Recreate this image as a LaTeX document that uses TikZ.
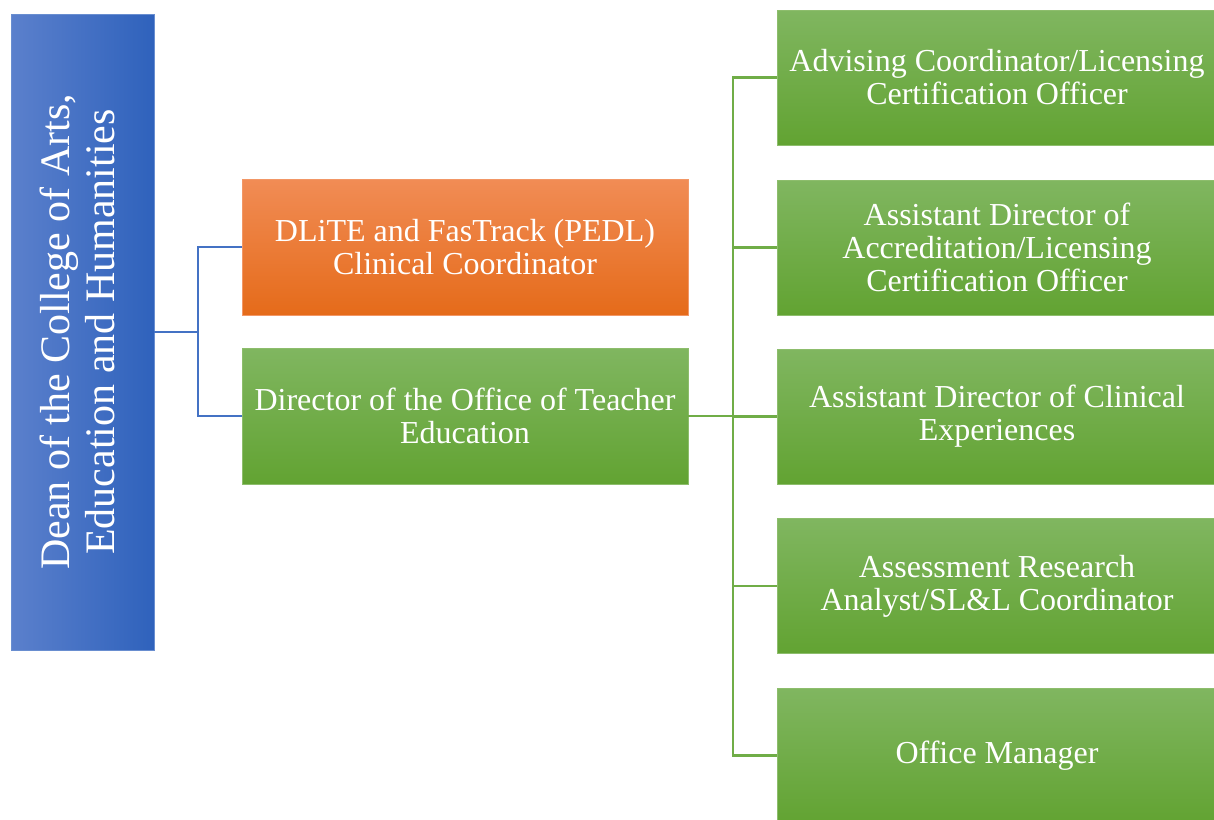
\documentclass[tikz,border=0pt]{standalone}
\usepackage{fontspec}
\setmainfont{LiberationSerif}[Extension=.ttf, UprightFont=*-Regular, BoldFont=*-Bold, ItalicFont=*-Italic]
\usepackage{graphicx}
\definecolor{bluel}{HTML}{5B80CC}
\definecolor{blued}{HTML}{2F62BC}
\definecolor{blueln}{HTML}{4472C4}
\definecolor{orgt}{HTML}{F18C55}
\definecolor{orgb}{HTML}{E56B1A}
\definecolor{grnt}{HTML}{80B660}
\definecolor{grnb}{HTML}{62A332}
\definecolor{grnln}{HTML}{70AD47}
\tikzset{
  box/.style={rectangle, inner sep=0pt, outer sep=0pt, text=white, align=center,
    font=\fontsize{32}{33}\selectfont},
  greenbox/.style={box, top color=grnt, bottom color=grnb, draw=grnln!80!white, line width=0.8pt},
  orangebox/.style={box, top color=orgt, bottom color=orgb, draw=orgt!90!white, line width=0.8pt},
  bluebox/.style={box, left color=bluel, right color=blued, draw=blueln!80!white, line width=0.8pt},
  blueconn/.style={draw=blueln, line width=2.5pt},
  greenconn/.style={draw=grnln, line width=2.5pt},
}
\begin{document}
\begin{tikzpicture}[x=1pt,y=-1pt]
\useasboundingbox (0,0) rectangle (1214,819);
\clip (0,0) rectangle (1214,819);
% Dean box
\node[bluebox, minimum width=143pt, minimum height=636pt] (dean) at (82.5,332)
  {\rotatebox{90}{\fontsize{42}{45}\selectfont\begin{tabular}{@{}c@{}}Dean of the College of Arts,\\ Education and Humanities\end{tabular}}};
% middle
\node[orangebox, minimum width=446pt, minimum height=136pt] (dlite) at (465,247)
  {DLiTE and FasTrack (PEDL)\\ Clinical Coordinator};
\node[greenbox, minimum width=446pt, minimum height=136pt] (dir) at (465,416)
  {Director of the Office of Teacher\\ Education};
% right
\node[greenbox, minimum width=440pt, minimum height=135pt] (r1) at (997,77.5)
  {Advising Coordinator/Licensing\\ Certification Officer};
\node[greenbox, minimum width=440pt, minimum height=135pt] (r2) at (997,247.5)
  {Assistant Director of\\ Accreditation/Licensing\\ Certification Officer};
\node[greenbox, minimum width=440pt, minimum height=135pt] (r3) at (997,416.5)
  {Assistant Director of Clinical\\ Experiences};
\node[greenbox, minimum width=440pt, minimum height=135pt] (r4) at (997,586)
  {Assessment Research\\ Analyst/SL\&L Coordinator};
\node[greenbox, minimum width=440pt, minimum height=135pt] (r5) at (997,755.5)
  {Office Manager};
% connectors
\coordinate (j1) at (198,332);
\coordinate (j2) at (733,416);
\draw[blueconn] (dean.east) -- (j1);
\draw[blueconn] (j1) |- (dlite.west);
\draw[blueconn] (j1) |- (dir.west);
\draw[greenconn] (dir.east) -- (j2);
\draw[greenconn] (j2) |- (r1.west);
\draw[greenconn] (j2) |- (r2.west);
\draw[greenconn] (j2) |- (r3.west);
\draw[greenconn] (j2) |- (r4.west);
\draw[greenconn] (j2) |- (r5.west);
\end{tikzpicture}
\end{document}
